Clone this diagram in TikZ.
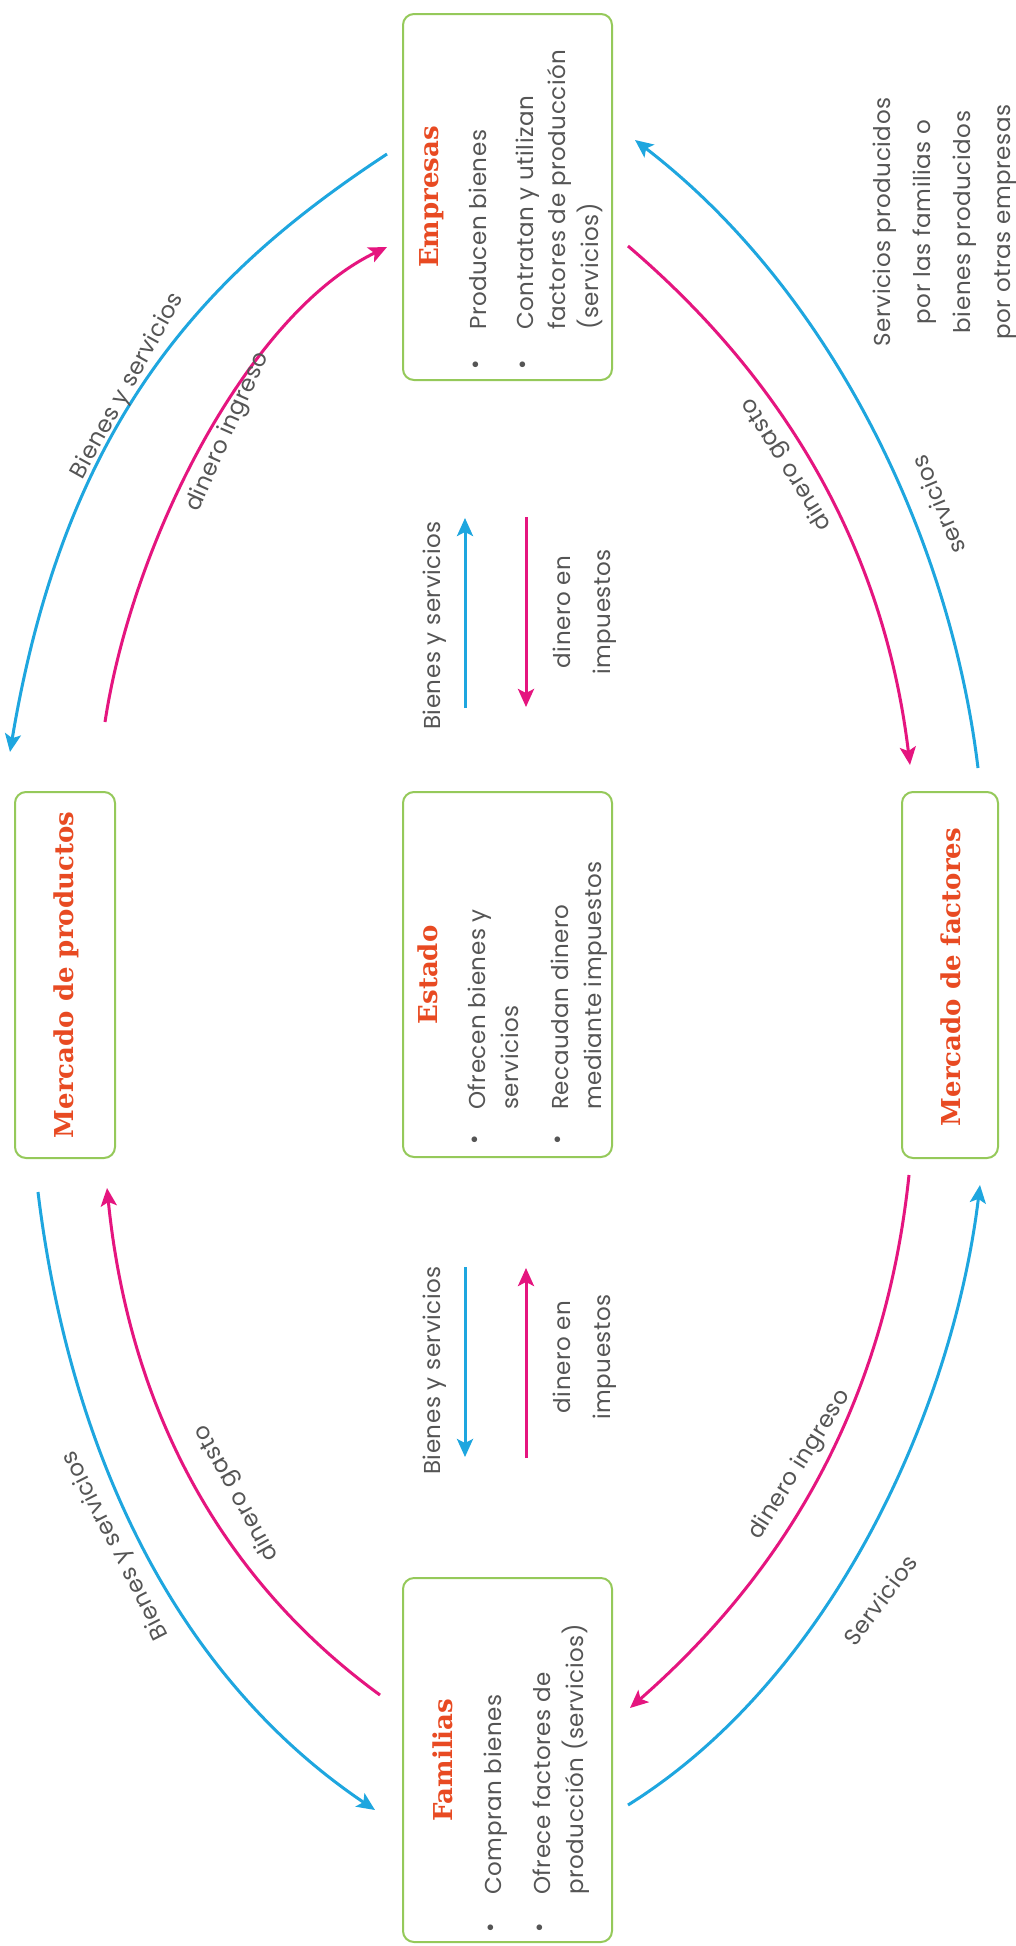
\documentclass[tikz,border=0pt]{standalone}
\usepackage{fontspec}
\setmainfont{Poppins}[LetterSpace=2.5]
\newfontfamily\titlefont{DejaVu Serif}
\usetikzlibrary{arrows.meta}
\definecolor{cblue}{HTML}{1EA6DF}
\definecolor{cmag}{HTML}{E5157F}
\definecolor{cgreen}{HTML}{95C95A}
\definecolor{ctitle}{HTML}{E84A22}
\definecolor{ctext}{HTML}{555555}
\tikzset{
 box/.style={draw=cgreen, line width=2pt, rounded corners=11pt, rotate=90},
 ttl/.style={rotate=90, text=ctitle, font=\titlefont\bfseries\fontsize{26}{30}\selectfont, inner sep=0pt},
 txt/.style={rotate=90, text=ctext, font=\fontsize{23}{28}\selectfont, inner sep=0pt, anchor=base west},
 bul/.style={rotate=90, text=ctext, font=\fontsize{23}{28}\selectfont, inner sep=0pt},
 lbl/.style={text=ctext, font=\fontsize{23}{28}\selectfont, inner sep=0pt},
 blk/.style={rotate=90, text=ctext, font=\fontsize{23}{40}\selectfont, inner sep=0pt, align=center},
 barr/.style={draw=cblue, line width=3pt, -{Stealth[length=18pt,width=16pt,inset=4pt]}},
 marr/.style={draw=cmag, line width=3pt, -{Stealth[length=18pt,width=16pt,inset=4pt]}},
}
\begin{document}
\begin{tikzpicture}[x=1pt,y=-1pt]
\useasboundingbox[fill=white] (0,0) rectangle (1016,1946);
% boxes
\node[box, minimum width=366pt, minimum height=209pt] (emp) at (507.5,197) {};
\node[box, minimum width=366pt, minimum height=100pt] (mp) at (65,975) {};
\node[box, minimum width=365pt, minimum height=209pt] (est) at (507.5,974.5) {};
\node[box, minimum width=366pt, minimum height=96pt] (mf) at (950,975) {};
\node[box, minimum width=364pt, minimum height=209pt] (fam) at (507.5,1760) {};
% titles
\node[ttl] (empT) at (432,197) {Empresas};
\node[ttl] (mpT) at (66,975) {Mercado de productos};
\node[ttl] (estT) at (428,975) {Estado};
\node[ttl] (mfT) at (951,977) {Mercado de factores};
\node[ttl] (famT) at (443,1760) {Familias};
% Empresas
\node[bul] (empB1) at (478,365) {\textbullet};
\node[txt] (empL1) at (486,330) {Producen bienes};
\node[bul] (empB2) at (525,365) {\textbullet};
\node[txt] (empL2) at (533,330) {Contratan y utilizan};
\node[txt] (empL3) at (565,330) {factores de producción};
\node[txt] (empL4) at (598,330) {(servicios)};
% Estado
\node[bul] (estB1) at (477,1140) {\textbullet};
\node[txt] (estL1) at (485,1110) {Ofrecen bienes y};
\node[txt] (estL2) at (518,1110) {servicios};
\node[bul] (estB2) at (560,1140) {\textbullet};
\node[txt] (estL3) at (568,1110) {Recaudan dinero};
\node[txt] (estL4) at (601,1110) {mediante impuestos};
% Familias
\node[bul] (famB1) at (493,1928) {\textbullet};
\node[txt] (famL1) at (501,1895) {Compran bienes};
\node[bul] (famB2) at (542,1928) {\textbullet};
\node[txt] (famL2) at (550,1895) {Ofrece factores de};
\node[txt] (famL3) at (583,1895) {producción (servicios)};
% side note
\node[blk] (note) at (945,222) {Servicios producidos\\por las familias o\\bienes producidos\\por otras empresas};
% Estado arrows
\coordinate (ub0) at (465,708); \coordinate (ub1) at (465,518);
\coordinate (um0) at (526,517); \coordinate (um1) at (526,707);
\draw[barr] (ub0) -- (ub1);
\draw[marr] (um0) -- (um1);
\node[txt] (ubL) at (440,730) {Bienes y servicios};
\node[blk] (umL) at (585,612) {dinero en\\impuestos};
\coordinate (lb0) at (465,1267); \coordinate (lb1) at (465,1457);
\coordinate (lm0) at (526,1458); \coordinate (lm1) at (526,1268);
\draw[barr] (lb0) -- (lb1);
\draw[marr] (lm0) -- (lm1);
\node[txt] (lbL) at (440,1475) {Bienes y servicios};
\node[blk] (lmL) at (585,1357) {dinero en\\impuestos};
% arc endpoints
\coordinate (tlb0) at (387,154); \coordinate (tlb1) at (10,752);
\coordinate (tlm0) at (105,722); \coordinate (tlm1) at (387,247);
\coordinate (trm0) at (628,246); \coordinate (trm1) at (910,765);
\coordinate (trb0) at (978,768); \coordinate (trb1) at (635,140);
\coordinate (brm0) at (909,1175); \coordinate (brm1) at (630,1708);
\coordinate (brb0) at (628,1805); \coordinate (brb1) at (980,1185);
\coordinate (blb0) at (38,1192); \coordinate (blb1) at (375,1810);
\coordinate (blm0) at (380,1695); \coordinate (blm1) at (107,1188);
\draw[barr] (tlb0) .. controls (214,268) and (67,411) .. (tlb1);
\draw[marr] (tlm0) .. controls (133,538) and (250,313) .. (tlm1);
\draw[marr] (trm0) .. controls (789.5,384) and (884.4,553.5) .. (trm1);
\draw[barr] (trb0) .. controls (950,536) and (830,290) .. (trb1);
\draw[marr] (brm0) .. controls (886,1395) and (792,1566) .. (brm1);
\draw[barr] (brb0) .. controls (831.3,1678.2) and (952.8,1410.4) .. (brb1);
\draw[barr] (blb0) .. controls (67,1431) and (163.4,1667.3) .. (blb1);
\draw[marr] (blm0) .. controls (211.2,1572) and (127.8,1395) .. (blm1);
% arc labels
\node[lbl, rotate=61] (l1) at (128,386) {Bienes y servicios};
\node[lbl, rotate=66] (l2) at (228,432) {dinero ingreso};
\node[lbl, rotate=122] (l3) at (787,464) {dinero gasto};
\node[lbl, rotate=113] (l4) at (938,505) {servicios};
\node[lbl, rotate=58] (l5) at (800,1465) {dinero ingreso};
\node[lbl, rotate=53] (l6) at (880,1600) {Servicios};
\node[lbl, rotate=117] (l7) at (116,1545) {Bienes y servicios};
\node[lbl, rotate=119] (l8) at (237,1493) {dinero gasto};
\end{tikzpicture}
\end{document}
